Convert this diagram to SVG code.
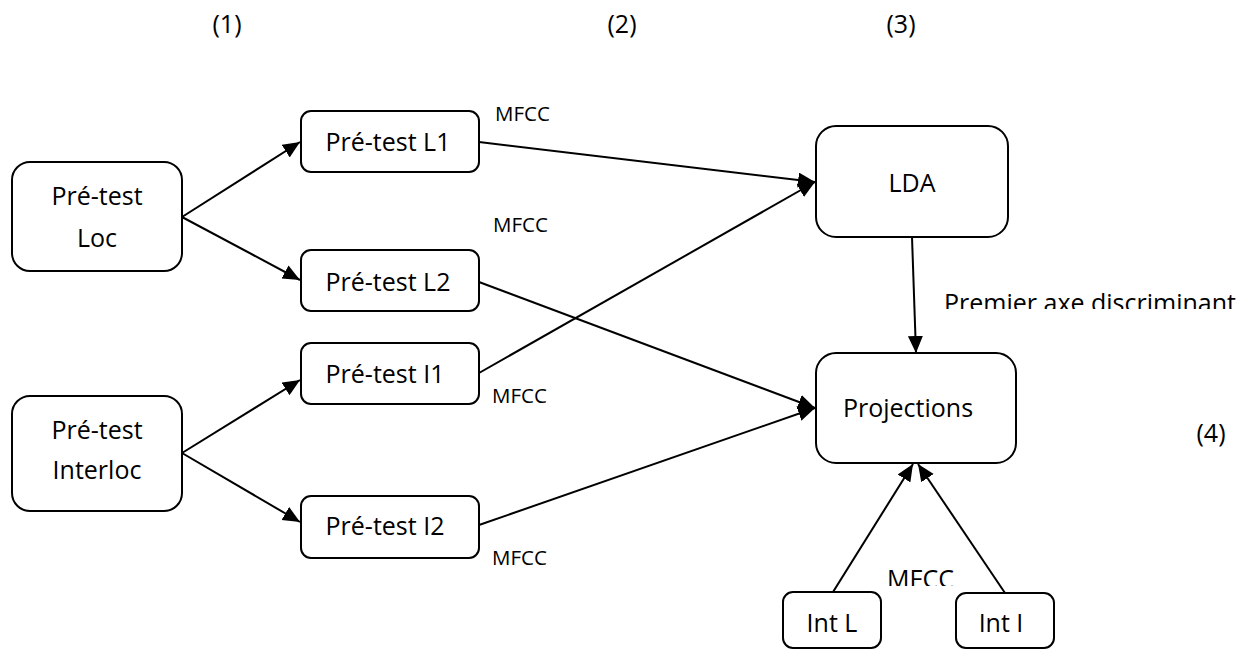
<svg xmlns="http://www.w3.org/2000/svg" width="1258" height="650" viewBox="0 0 1258 650">
<style>
.box{fill:#fff;stroke:#000;stroke-width:2}
.t{font-family:"Open Sans","Noto Sans",sans-serif;font-size:25px;fill:#000;text-anchor:middle}
.s{font-family:"Open Sans","Noto Sans",sans-serif;font-size:20.5px;fill:#000}
.l{font-family:"Open Sans","Noto Sans",sans-serif;font-size:25px;fill:#000}
.c line{stroke:#000;stroke-width:2;marker-end:url(#ah)}
</style>
<defs>
<marker id="ah" markerUnits="userSpaceOnUse" markerWidth="18" markerHeight="16" refX="17" refY="7.5" orient="auto">
<path d="M0,0 L17,7.5 L0,15 z" fill="#000"/>
</marker>
<clipPath id="clipPremier"><rect x="900" y="280" width="358" height="29"/></clipPath>
<clipPath id="clipMfcc"><rect x="880" y="560" width="80" height="26"/></clipPath>
</defs>
<rect width="1258" height="650" fill="#fff"/>
<g id="labels">
<text class="t" x="227" y="33">(1)</text>
<text class="t" x="622" y="33">(2)</text>
<text class="t" x="901" y="33">(3)</text>
<text class="t" x="1211" y="442">(4)</text>
<text class="s" x="495" y="121">MFCC</text>
<text class="s" x="493" y="232">MFCC</text>
<text class="s" x="492" y="403">MFCC</text>
<text class="s" x="492" y="565">MFCC</text>
<text class="l" x="944" y="312" clip-path="url(#clipPremier)">Premier axe discriminant</text>
<text class="l" x="887" y="588" clip-path="url(#clipMfcc)">MFCC</text>
</g>
<g class="c" id="connectors">
<line x1="182" y1="217" x2="300" y2="142"/>
<line x1="182" y1="217" x2="300" y2="280"/>
<line x1="182" y1="453" x2="300" y2="380"/>
<line x1="182" y1="453" x2="300" y2="522"/>
<line x1="479" y1="142" x2="815" y2="182"/>
<line x1="479" y1="373" x2="815" y2="182"/>
<line x1="479" y1="282" x2="815" y2="408"/>
<line x1="479" y1="525" x2="815" y2="408"/>
<line x1="912" y1="237" x2="916" y2="353"/>
<line x1="833" y1="592" x2="913" y2="464"/>
<line x1="1005" y1="593" x2="918" y2="464"/>
</g>
<g id="node-loc">
<rect class="box" x="12" y="162" width="170" height="109" rx="18"/>
<text class="t" x="97" y="205">Pré-test</text>
<text class="t" x="97" y="247">Loc</text>
</g>
<g id="node-interloc">
<rect class="box" x="12" y="396" width="170" height="115" rx="18"/>
<text class="t" x="97" y="439">Pré-test</text>
<text class="t" x="97" y="479">Interloc</text>
</g>
<g id="node-l1">
<rect class="box" x="301" y="111" width="178" height="61" rx="10"/>
<text class="t" x="388" y="151">Pré-test L1</text>
</g>
<g id="node-l2">
<rect class="box" x="301" y="250" width="178" height="61" rx="10"/>
<text class="t" x="388" y="291">Pré-test L2</text>
</g>
<g id="node-i1">
<rect class="box" x="301" y="343" width="178" height="61" rx="10"/>
<text class="t" x="385" y="383">Pré-test I1</text>
</g>
<g id="node-i2">
<rect class="box" x="301" y="496" width="178" height="62" rx="10"/>
<text class="t" x="385" y="535">Pré-test I2</text>
</g>
<g id="node-lda">
<rect class="box" x="816" y="126" width="192" height="111" rx="20"/>
<text class="t" x="912" y="192">LDA</text>
</g>
<g id="node-projections">
<rect class="box" x="816" y="353" width="200" height="110" rx="20"/>
<text class="t" x="908" y="417">Projections</text>
</g>
<g id="node-intl">
<rect class="box" x="783" y="592" width="98" height="56" rx="10"/>
<text class="t" x="832" y="632">Int L</text>
</g>
<g id="node-inti">
<rect class="box" x="956" y="593" width="98" height="55" rx="10"/>
<text class="t" x="1001" y="632">Int I</text>
</g>
</svg>
